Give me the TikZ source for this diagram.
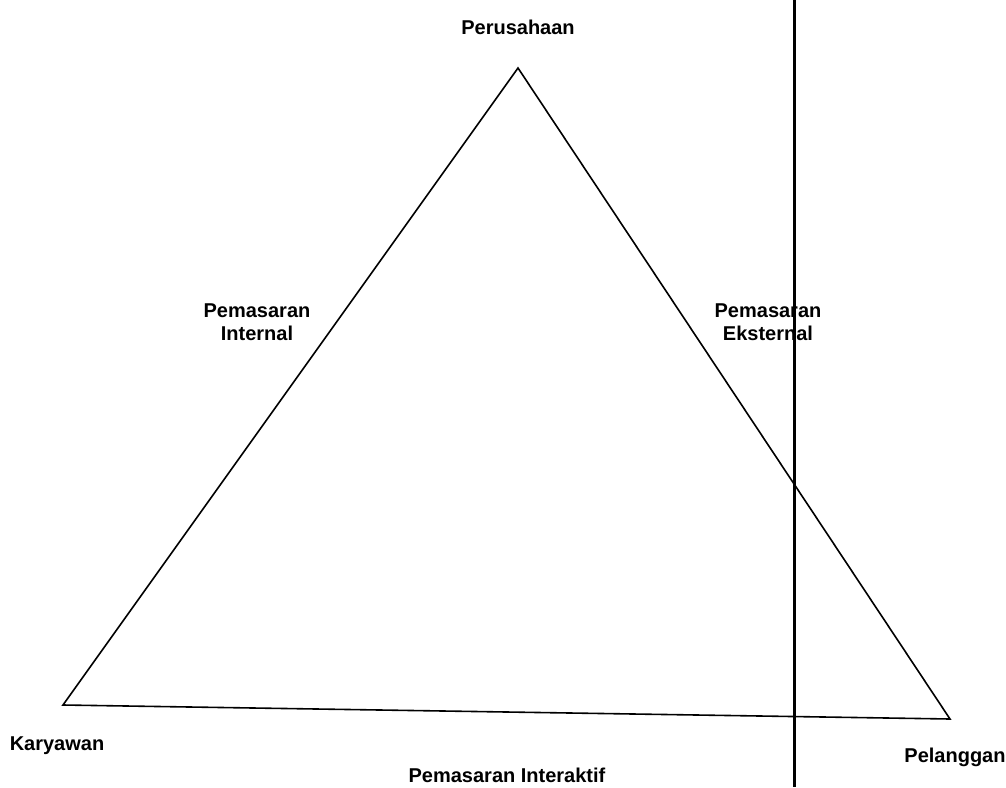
\documentclass[tikz,border=0pt]{standalone}
\usepackage{fontspec}
\setmainfont{Liberation Sans}
\usetikzlibrary{positioning}

\begin{document}
\begin{tikzpicture}[x=1pt, y=-1pt,
    every node/.style={font=\fontsize{20}{23}\selectfont\bfseries, inner sep=0pt},
    side/.style={line width=1.6pt, line join=miter},
    divider/.style={line width=3pt}]

  %% Frame of the picture
  \useasboundingbox (0,0) rectangle (1006,787);

  %% Corners of the triangle
  \coordinate (perusahaan) at (518,68);
  \coordinate (karyawan)   at (63,705);
  \coordinate (pelanggan)  at (950,719);

  % Triangle
  \draw[side] (perusahaan) -- (pelanggan) -- (karyawan) -- cycle;

  % Vertical divider
  \coordinate (divtop) at (794,0);
  \coordinate (divbot) at (794,787);
  \draw[divider] (divtop) -- (divbot);

  %% Corner labels
  \node[anchor=base] (lblperusahaan) at (518,34) {Perusahaan};
  \node[anchor=base] (lblkaryawan)   at (57,750)  {Karyawan};
  \node[anchor=base] (lblpelanggan)  at (955,762) {Pelanggan};

  %% Side labels (base = last line)
  \node[anchor=base, align=center] (lblinternal) at (257,340)
    {Pemasaran\\Internal};
  \node[anchor=base, align=center] (lbleksternal) at (768,340)
    {Pemasaran\\Eksternal};
  \node[anchor=base] (lblinteraktif) at (507,782) {Pemasaran Interaktif};
\end{tikzpicture}
\end{document}
